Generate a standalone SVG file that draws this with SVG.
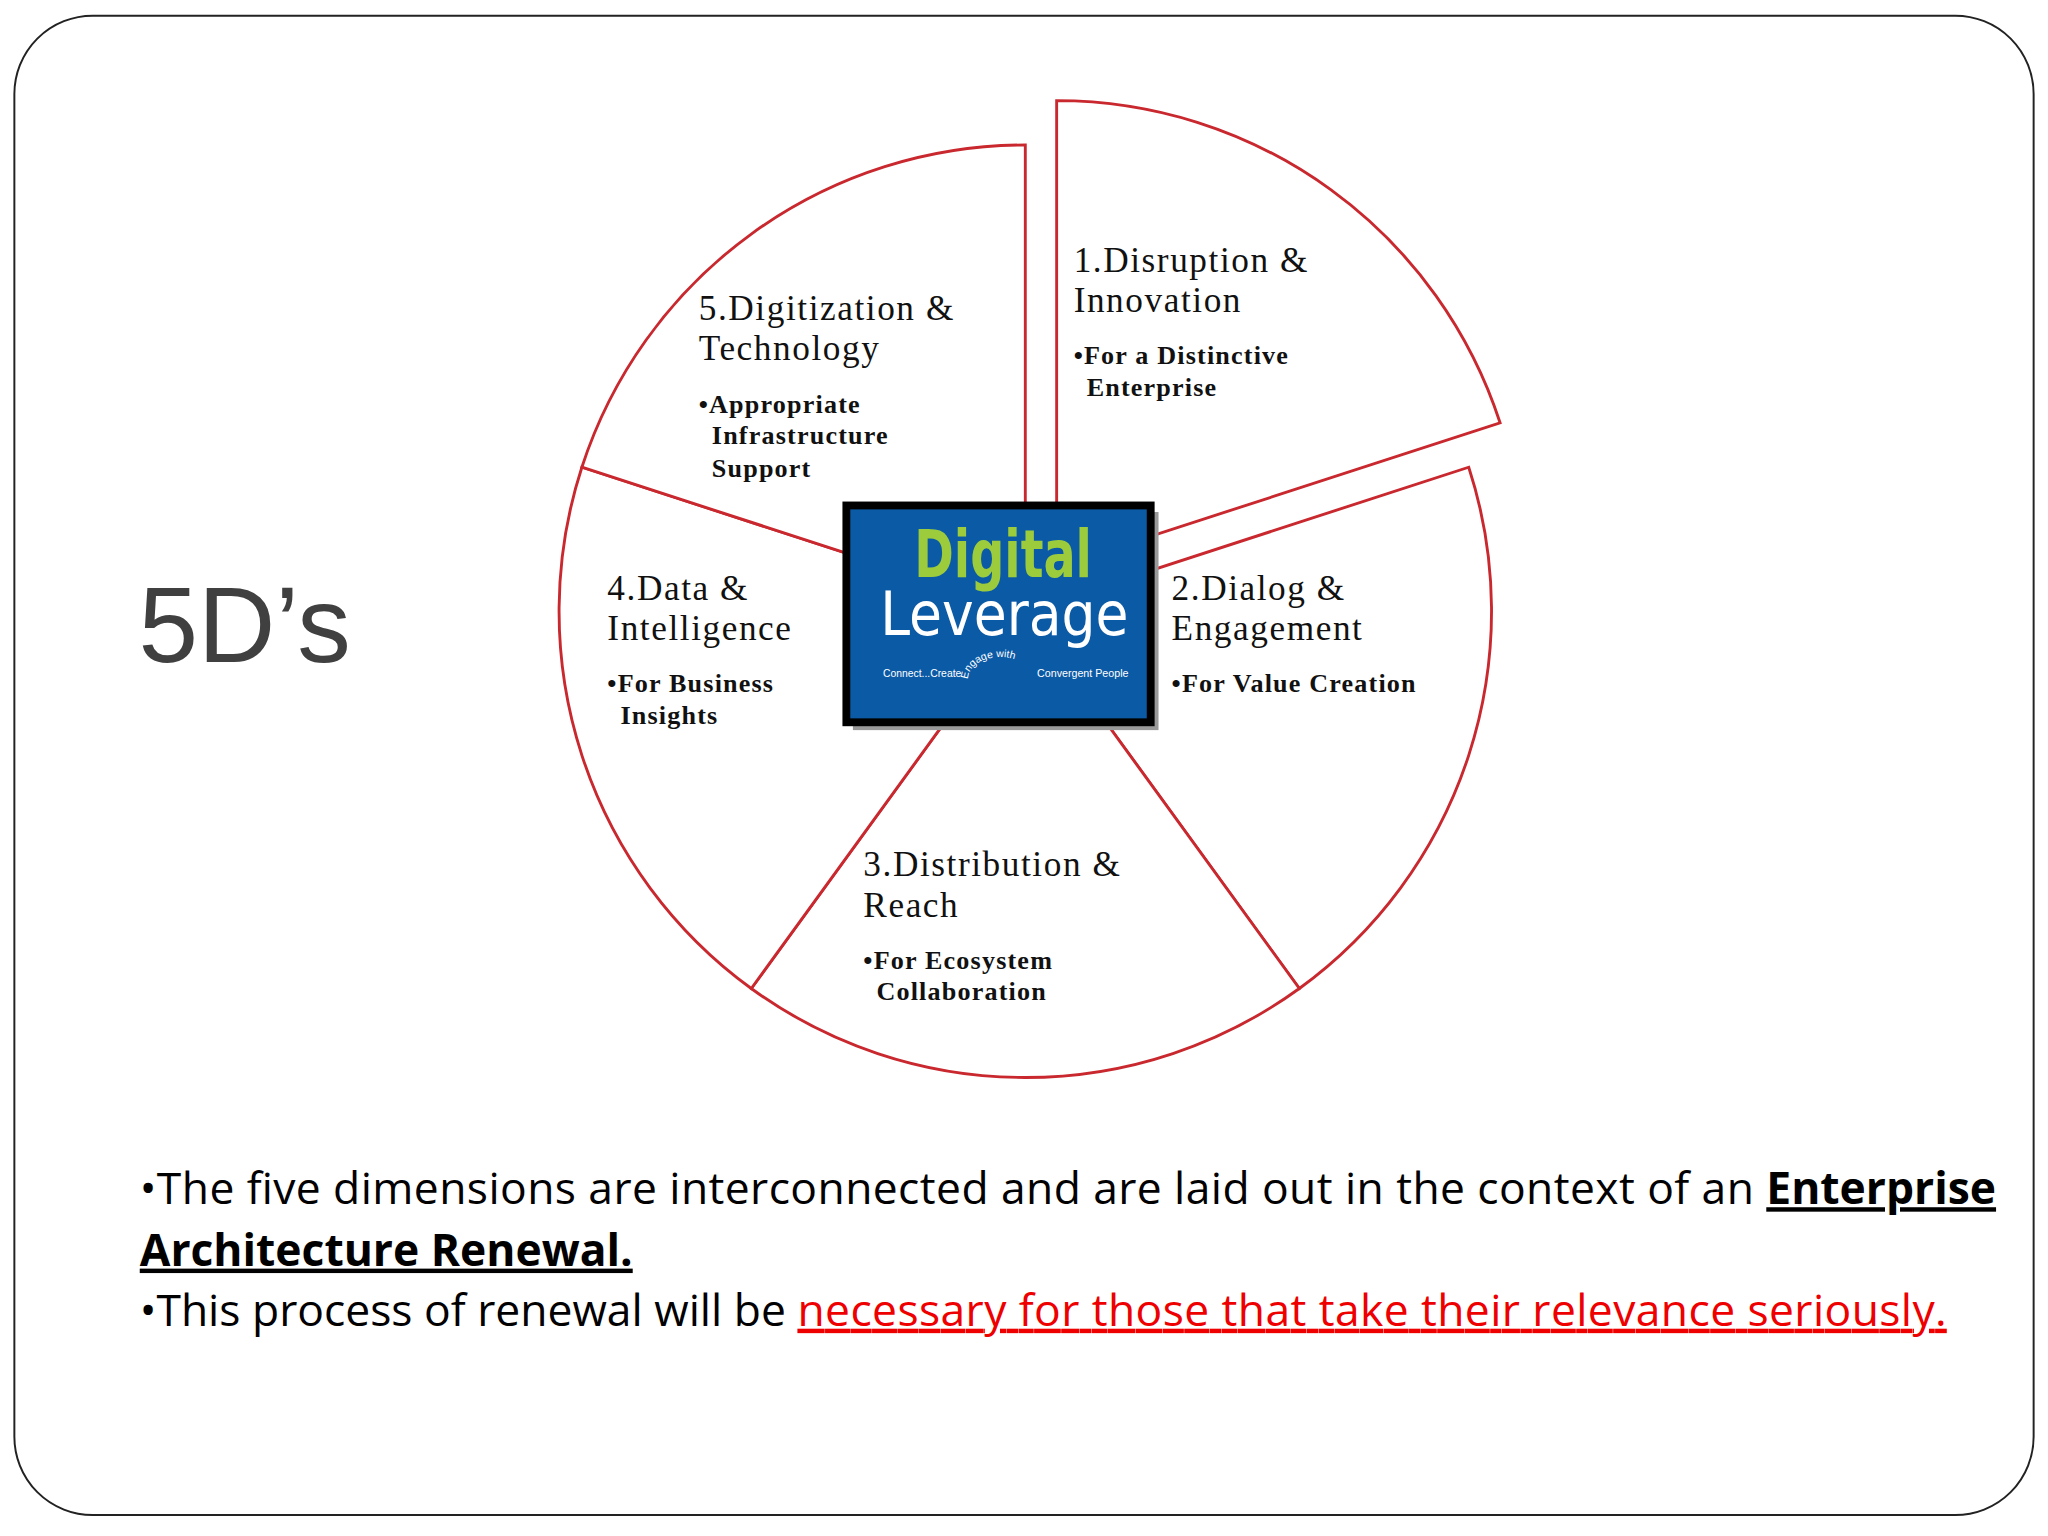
<svg xmlns="http://www.w3.org/2000/svg" width="2048" height="1536" viewBox="0 0 2048 1536">
<style>
.w{fill:#fff;stroke:#c8282e;stroke-width:2.2}
.t{font-family:"Liberation Serif",serif;font-size:27px;fill:#111;letter-spacing:1.2px}
.b{font-family:"Liberation Serif",serif;font-size:20px;font-weight:bold;fill:#111;letter-spacing:0.9px}
.s{font-family:"Open Sans","Liberation Sans",sans-serif;font-size:34px;fill:#000}
</style>
<rect width="2048" height="1536" fill="#fff"/>
<g transform="scale(1.30612)">
<rect x="11" y="12" width="1546" height="1148" rx="60" fill="#fff" stroke="#222" stroke-width="1.5"/>
<text x="106" y="507" font-family="Liberation Sans,sans-serif" font-size="82" fill="#404040">5D’s</text>
<g id="connectors"></g>
<g id="w1"><path class="w" d="M809,434 L809,77 A357,357 0 0 1 1148.5,323.7 Z"/>
<text class="t" x="822" y="208">1.Disruption &amp;</text><text class="t" x="822" y="239">Innovation</text>
<text class="b" x="822" y="279">•For a Distinctive</text><text class="b" x="832" y="303">Enterprise</text></g>
<g id="w2"><path class="w" d="M785,468 L1124.5,357.7 A357,357 0 0 1 994.8,756.8 Z"/>
<text class="t" x="897" y="459">2.Dialog &amp;</text><text class="t" x="897" y="490">Engagement</text>
<text class="b" x="897" y="530">•For Value Creation</text></g>
<g id="w3"><path class="w" d="M785,468 L994.8,756.8 A357,357 0 0 1 575.2,756.8 Z"/>
<text class="t" x="661" y="671">3.Distribution &amp;</text><text class="t" x="661" y="702">Reach</text>
<text class="b" x="661" y="742">•For Ecosystem</text><text class="b" x="671" y="766">Collaboration</text></g>
<g id="w4"><path class="w" d="M785,468 L575.2,756.8 A357,357 0 0 1 445.5,357.7 Z"/>
<text class="t" x="465" y="459">4.Data &amp;</text><text class="t" x="465" y="490">Intelligence</text>
<text class="b" x="465" y="530">•For Business</text><text class="b" x="475" y="554">Insights</text></g>
<g id="w5"><path class="w" d="M785,468 L445.5,357.7 A357,357 0 0 1 785,111 Z"/>
<text class="t" x="535" y="245">5.Digitization &amp;</text><text class="t" x="535" y="276">Technology</text>
<text class="b" x="535" y="316">•Appropriate</text><text class="b" x="545" y="340">Infrastructure</text><text class="b" x="545" y="365">Support</text></g>
<g id="logo">
<rect x="653" y="392" width="234" height="167" fill="#999"/>
<rect x="648" y="387" width="233" height="166" fill="#0b5aa6" stroke="#000" stroke-width="6"/>
<text x="700" y="442" textLength="136" lengthAdjust="spacingAndGlyphs" font-family="DejaVu Sans Condensed,DejaVu Sans,sans-serif" font-weight="bold" font-size="50" fill="#9ccc3c">Digital</text>
<text x="674" y="486" textLength="190" lengthAdjust="spacingAndGlyphs" font-family="DejaVu Sans Condensed,DejaVu Sans,sans-serif" font-size="46" fill="#fff">Leverage</text>
<text x="676" y="518" textLength="60" lengthAdjust="spacingAndGlyphs" font-family="Liberation Sans,sans-serif" font-size="9" fill="#fff">Connect...Create</text>
<path id="arc" d="M741,520 A25,17 0 0 1 791,520" fill="none"/>
<text font-family="Liberation Sans,sans-serif" font-size="8" fill="#fff"><textPath href="#arc">Engage with</textPath></text>
<text x="794" y="518" textLength="70" lengthAdjust="spacingAndGlyphs" font-family="Liberation Sans,sans-serif" font-size="9" fill="#fff">Convergent People</text>
</g>
<text class="s" x="107" y="922"><tspan textLength="1245">•The five dimensions are interconnected and are laid out in the context of an </tspan><tspan font-weight="bold" text-decoration="underline">Enterprise</tspan></text>
<text class="s" x="107" y="969" font-weight="bold" text-decoration="underline">Architecture Renewal. </text>
<text class="s" x="107" y="1015">•This process of renewal will be <tspan fill="#e00" text-decoration="underline" textLength="880">necessary for those that take their relevance seriously. </tspan></text>
</g>
</svg>
